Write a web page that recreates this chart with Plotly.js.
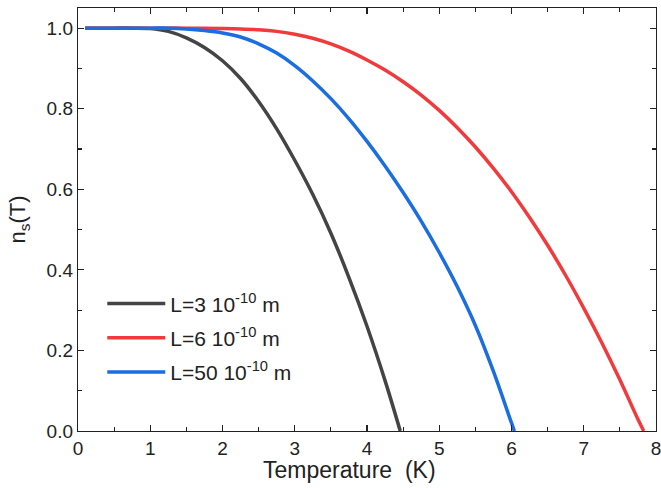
<!DOCTYPE html>
<html>
<head>
<meta charset="utf-8">
<script src="https://cdn.plot.ly/plotly-3.0.1.min.js"></script>
<style>html,body{margin:0;padding:0;background:#fff;}#chart{width:661px;height:488px;}</style>
</head>
<body>
<div id="chart"></div>
<script>
const seriesNames = ["L=3 10<sup>-10</sup> m", "L=6 10<sup>-10</sup> m", "L=50 10<sup>-10</sup> m"];
const seriesColors = ["#444444", "#f03a3c", "#1a6ee0"];

const tempL3 = [0.1, 0.5, 0.75, 1.0, 1.25, 1.5, 1.75, 2.0, 2.25, 2.5, 2.75, 3.0, 3.25, 3.5, 3.75, 4.0, 4.25, 4.46];
const nsL3   = [1, 1, 1, 0.999, 0.992, 0.976, 0.952, 0.919, 0.875, 0.818, 0.750, 0.672, 0.587, 0.491, 0.381, 0.260, 0.125, 0];

const tempL6 = [0.1, 1.0, 1.5, 2.0, 2.25, 2.5, 2.75, 3.0, 3.25, 3.5, 3.75, 4.0, 4.25, 4.5, 4.75, 5.0, 5.25, 5.5, 5.75, 6.0, 6.25, 6.5, 6.75, 7.0, 7.25, 7.5, 7.75, 7.83];
const nsL6   = [1, 1, 1, 0.999, 0.998, 0.996, 0.992, 0.985, 0.975, 0.961, 0.943, 0.921, 0.896, 0.867, 0.834, 0.796, 0.753, 0.705, 0.652, 0.594, 0.530, 0.461, 0.386, 0.305, 0.219, 0.127, 0.029, 0];

const tempL50 = [0.1, 1.0, 1.25, 1.5, 1.75, 2.0, 2.25, 2.5, 2.75, 3.0, 3.25, 3.5, 3.75, 4.0, 4.25, 4.5, 4.75, 5.0, 5.25, 5.5, 5.75, 6.0, 6.04];
const nsL50   = [1, 1, 1, 0.998, 0.994, 0.988, 0.978, 0.961, 0.938, 0.907, 0.869, 0.825, 0.775, 0.719, 0.658, 0.592, 0.521, 0.443, 0.358, 0.262, 0.148, 0.020, 0];

const xs = [tempL3, tempL6, tempL50];
const ys = [nsL3, nsL6, nsL50];

const traces = xs.map((x, i) => ({
  x: x, y: ys[i], type: 'scatter', mode: 'lines', name: seriesNames[i],
  legendgroup: 'g' + i,
  line: {color: seriesColors[i], width: 3.5, shape: 'spline', smoothing: 1}
}));

const fontFam = 'Arial, "Liberation Sans", sans-serif';
const axisCommon = {
  showline: true, linecolor: '#222', linewidth: 1.2, mirror: 'allticks',
  ticks: 'inside', ticklen: 6, tickwidth: 1.2, tickcolor: '#222',
  showgrid: false, zeroline: false, ticklabeloverflow: 'allow',
  tickfont: {family: fontFam, size: 19, color: '#222'}
};

const layout = {
  width: 661, height: 488,
  margin: {l: 78, r: 5, t: 8, b: 57},
  paper_bgcolor: '#fff', plot_bgcolor: '#fff',
  showlegend: true,
  legend: {x: 0.042, y: 0.349, xanchor: 'left', yanchor: 'top', bgcolor: 'rgba(0,0,0,0)',
           itemwidth: 58, tracegroupgap: 4, traceorder: 'grouped',
           font: {family: fontFam, size: 21, color: '#222'}},
  xaxis: Object.assign({}, axisCommon, {
    range: [0, 8], dtick: 1, tick0: 0,
    minor: {dtick: 0.5, ticks: 'inside', ticklen: 4, tickcolor: '#222', tickwidth: 1.2}
  }),
  yaxis: Object.assign({}, axisCommon, {
    range: [0, 1.05], dtick: 0.2, tick0: 0, tickformat: '.1f',
    minor: {dtick: 0.1, ticks: 'inside', ticklen: 4, tickcolor: '#222', tickwidth: 1.2},
    title: {text: 'n<sub>s</sub>(T)', font: {family: fontFam, size: 22, color: '#222'}, standoff: 14}
  }),
  annotations: [{
    text: 'Temperature  (K)', xref: 'paper', yref: 'paper', x: 0.47, y: 0,
    xanchor: 'center', yanchor: 'top', yshift: -24, showarrow: false,
    font: {family: fontFam, size: 23, color: '#222'}
  }]
};

Plotly.newPlot('chart', traces, layout, {displayModeBar: false, staticPlot: true});
</script>
</body>
</html>
